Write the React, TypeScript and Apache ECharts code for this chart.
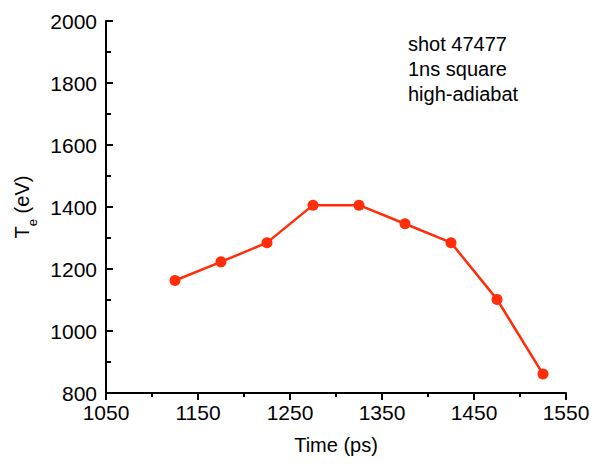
import React, { useEffect, useRef } from "react";
import * as echarts from "echarts";

const times = [1125, 1175, 1225, 1275, 1325, 1375, 1425, 1475, 1525];
const te = [1163, 1223, 1285, 1406, 1406, 1346, 1285, 1102, 861];
const notes = ["shot 47477", "1ns square", "high-adiabat"];

const FONT = "Liberation Sans, Arial, sans-serif";

export default function App() {
  const ref = useRef<HTMLDivElement>(null);
  useEffect(() => {
    if (!ref.current) return;
    const chart = echarts.init(ref.current, null, { renderer: "svg" });
    chart.setOption({
      animation: false,
      backgroundColor: "#fff",
      textStyle: { fontFamily: FONT },
      grid: { left: 106, right: 26, top: 21, bottom: 74, outerBoundsMode: "none", containLabel: false },
      xAxis: {
        type: "value",
        min: 1050,
        max: 1550,
        interval: 100,
        name: "Time (ps)",
        nameLocation: "middle",
        nameGap: 42,
        nameTextStyle: { color: "#000", fontSize: 20, fontFamily: FONT },
        axisLine: { show: true, lineStyle: { color: "#000", width: 2 } },
        axisTick: { show: true, inside: false, length: 7, lineStyle: { color: "#000", width: 2 } },
        minorTick: { show: true, splitNumber: 2, length: 4, lineStyle: { color: "#000", width: 2 } },
        axisLabel: { color: "#000", fontSize: 21, margin: 9, fontFamily: FONT, formatter: (v: number) => String(v) },
        splitLine: { show: false },
      },
      yAxis: {
        type: "value",
        min: 800,
        max: 2000,
        interval: 200,
        name: "{a|T}{b|e}{a| (eV)}",
        nameLocation: "middle",
        nameRotate: 90,
        nameGap: 70,
        nameTextStyle: {
          color: "#000",
          fontFamily: FONT,
          rich: {
            a: { fontSize: 20, color: "#000", fontFamily: FONT, lineHeight: 26, verticalAlign: "middle" },
            b: { fontSize: 13, color: "#000", fontFamily: FONT, lineHeight: 26, verticalAlign: "bottom", padding: [0, 0, -4, 0] },
          },
        },
        axisLine: { show: true, lineStyle: { color: "#000", width: 2 } },
        axisTick: { show: true, inside: true, length: 7, lineStyle: { color: "#000", width: 2 } },
        minorTick: { show: true, splitNumber: 2, length: 5, lineStyle: { color: "#000", width: 2 } },
        axisLabel: { color: "#000", fontSize: 21, margin: 9, fontFamily: FONT, formatter: (v: number) => String(v) },
        splitLine: { show: false },
      },
      graphic: notes.map((t, i) => ({
        type: "text",
        left: 408,
        top: 34 + i * 25,
        style: { text: t, fontSize: 20, fill: "#000", fontFamily: FONT },
      })),
      series: [
        {
          type: "line",
          data: times.map((t, i) => [t, te[i]]),
          color: "#ff2d0a",
          symbol: "circle",
          symbolSize: 11,
          lineStyle: { width: 2.5, color: "#ff2d0a" },
          itemStyle: { color: "#ff2d0a" },
        },
      ],
    });
    return () => chart.dispose();
  }, []);
  return <div ref={ref} style={{ width: 592, height: 467, position: "absolute", left: 0, top: 0 }} />;
}
